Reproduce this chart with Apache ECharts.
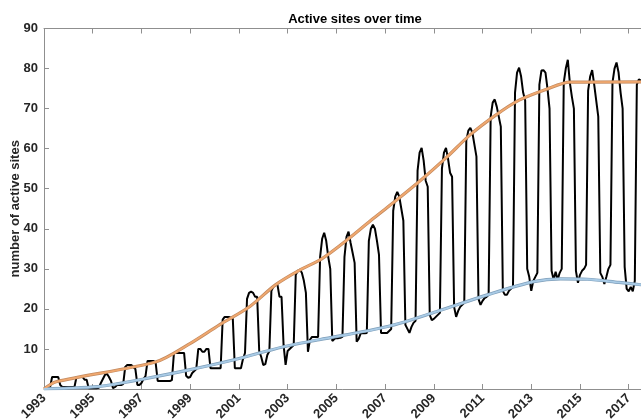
<!DOCTYPE html>
<html><head><meta charset="utf-8">
<script src="https://cdn.jsdelivr.net/npm/echarts@6/dist/echarts.min.js"></script>
<style>html,body{margin:0;padding:0;background:#fff}#c{width:641px;height:420px}</style>
</head><body><div id="c"></div>
<script>
const firstYear = 1993;
// monthly number of active sites, one row per year (Jan..Dec)
const activeSites = [
  [0, 0, 0.3, 0.5, 3, 3, 3, 3, 1, 0.5, 0.5, 0.5],            // 1993
  [0.5, 0.5, 0.5, 0.5, 3, 3, 3, 3, 2.3, 2.3, 0.2, 0.2],       // 1994
  [0.2, 0.2, 0.2, 0.3, 1.5, 2.5, 3.5, 3.8, 3, 2, 0.2, 0.5],   // 1995
  [1, 1, 1, 1.2, 5.5, 6, 6, 6, 5.5, 5, 1, 1],                 // 1996
  [1.5, 2.5, 3.2, 7, 7, 7, 7, 6.5, 2, 2, 2, 2],               // 1997
  [2, 2, 2, 2.2, 9, 9, 9, 9, 9, 9, 3.3, 2.8],                 // 1998
  [3, 4, 4.5, 5, 10, 10, 9.3, 9.3, 10, 10, 5.2, 5.2],         // 1999
  [5.2, 5.2, 5.2, 5.2, 17.3, 18, 18, 18, 17.8, 17.5, 5.2, 5.2], // 2000
  [5.2, 5.2, 7.5, 9, 22.5, 24, 24.3, 24, 23, 23, 9.5, 8],     // 2001
  [6, 6.2, 8.5, 9.5, 24.5, 25.5, 26, 26, 23, 23, 11, 6],      // 2002
  [9.5, 10, 10.5, 11, 28.5, 29.5, 29.8, 29, 27, 24, 9.3, 12.3], // 2003
  [13, 13, 13, 13, 33, 37.5, 39, 37, 33, 30, 12, 12.5],       // 2004
  [12.7, 12.7, 12.8, 13, 33, 38, 39.3, 36.5, 34, 31.5, 11.8, 12.5], // 2005
  [13.9, 13.9, 13.9, 14, 37, 40, 41, 40, 37, 33.5, 14, 14],   // 2006
  [14, 14, 14.5, 15, 44.5, 48, 49.2, 48, 45, 42, 16, 15],     // 2007
  [14, 15.5, 16.5, 17, 54.5, 59, 60.2, 57, 52, 50.5, 18.5, 17.2], // 2008
  [17.5, 18, 18.5, 19, 55, 59, 60.2, 57.5, 54, 53, 20.5, 18], // 2009
  [19.5, 20.5, 21, 21.5, 62, 64.5, 65.2, 64, 61, 58, 22.5, 21], // 2010
  [22, 22.7, 23, 23.5, 68, 71.5, 72.3, 70.5, 68, 65.5, 24.5, 23.5], // 2011
  [23.5, 24.5, 25, 25.5, 74, 79, 80.2, 78, 74, 72, 30, 28],   // 2012
  [24.5, 27, 28, 29, 76, 79.5, 79.6, 79, 75, 70, 29.5, 27.3], // 2013
  [29.3, 27.3, 29, 30, 76.5, 80, 82.2, 76.5, 73, 70, 29.5, 26.5], // 2014
  [28.5, 29.5, 30, 31, 74.5, 78, 79.6, 76, 72, 68, 29, 28],   // 2015
  [26.2, 28, 30, 31, 76.5, 80, 81.5, 79, 74, 70, 30.5, 25],   // 2016
  [24.4, 25.5, 24.4, 27, 76, 77.3, 77]                        // 2017
];
const upperEnvelope = [
  [1993, 0], [1993.5, 1.8], [1997.6, 6.8], [1998.9, 11], [2000.2, 16], [2001.45, 20.6],
  [2002.5, 26], [2003.5, 29.7], [2004.4, 32.5], [2005.5, 37.5], [2006.5, 42.5],
  [2007.5, 47.3], [2008.5, 52.3], [2009.5, 57.7], [2010.5, 63.5], [2011.5, 68.2],
  [2012.5, 72.1], [2013.6, 74.8], [2014.6, 76.6], [2018.2, 76.7]
];
const lowerEnvelope = [
  [1993, 0], [1994, 0.2], [1995.2, 0.6], [1996, 1.3], [1997.1, 2.5], [1998.9, 4.7],
  [2000.8, 7.3], [2002.8, 10.5], [2004.3, 12.3], [2007.1, 15.6],
  [2009.1, 19.3], [2011.2, 23.5], [2013.1, 26.8], [2014.2, 27.5], [2015.3, 27.4],
  [2016.6, 26.6], [2017.55, 26], [2018.2, 25.6]
];
const tickYears = [1993, 1995, 1997, 1999, 2001, 2003, 2005, 2007, 2009, 2011, 2013, 2015, 2017];
const yTicks = [10, 20, 30, 40, 50, 60, 70, 80, 90];

const font = 'Liberation Sans, Arial, Helvetica, sans-serif';
const axisGray = '#8f8f8f';
const textColor = '#262626';

const monthlyData = [];
activeSites.forEach((row, i) => {
  row.forEach((v, m) => monthlyData.push([firstYear + i + m / 12, v]));
});

const chart = echarts.init(document.getElementById('c'), null, {renderer: 'canvas'});
const xCommon = {
  type: 'value', min: 1993, max: 2018.12,
  splitLine: {show: false},
  axisLine: {show: true, onZero: false, lineStyle: {color: axisGray, width: 1}},
  axisTick: {show: true, inside: true, length: 5, customValues: tickYears, lineStyle: {color: axisGray}}
};
const envStyle = {type: 'line', showSymbol: false, symbol: 'none', smooth: 0.3};
chart.setOption({
  animation: false,
  title: {
    text: 'Active sites over time', left: 350, top: 8, textAlign: 'center',
    textStyle: {fontFamily: font, fontWeight: 'bold', fontSize: 13, color: '#000'}
  },
  grid: {left: 44, right: -15, top: 28.5, bottom: 31, containLabel: false, outerBoundsMode: 'none'},
  xAxis: [
    Object.assign({}, xCommon, {
      position: 'bottom',
      axisLabel: {
        customValues: tickYears, rotate: 45, margin: 7,
        fontFamily: font, fontWeight: 'bold', fontSize: 13, color: textColor,
        formatter: v => String(v)
      }
    }),
    Object.assign({}, xCommon, {position: 'top', axisLabel: {show: false}})
  ],
  yAxis: {
    type: 'value', min: 0, max: 90, interval: 10,
    splitLine: {show: false},
    axisLine: {show: true, lineStyle: {color: axisGray, width: 1}},
    axisTick: {show: true, inside: true, length: 5, customValues: yTicks, lineStyle: {color: axisGray}},
    axisLabel: {
      customValues: yTicks, margin: 6,
      fontFamily: font, fontWeight: 'bold', fontSize: 13, color: textColor
    },
    name: 'number of active sites', nameLocation: 'middle', nameGap: 22, nameMoveOverlap: false,
    nameTextStyle: {fontFamily: font, fontWeight: 'bold', fontSize: 13, color: textColor}
  },
  series: [
    {type: 'line', data: monthlyData, showSymbol: false, symbol: 'none',
     lineStyle: {color: '#000', width: 2}, z: 2},
    Object.assign({}, envStyle, {data: upperEnvelope, lineStyle: {color: '#c28a60', width: 3.2}, z: 3}),
    Object.assign({}, envStyle, {data: upperEnvelope, lineStyle: {color: '#f0a86f', width: 1.8}, z: 4}),
    Object.assign({}, envStyle, {data: lowerEnvelope, lineStyle: {color: '#7f9fba', width: 3.2}, z: 3}),
    Object.assign({}, envStyle, {data: lowerEnvelope, lineStyle: {color: '#a9cbe6', width: 1.8}, z: 4})
  ]
});
</script>
</body></html>
